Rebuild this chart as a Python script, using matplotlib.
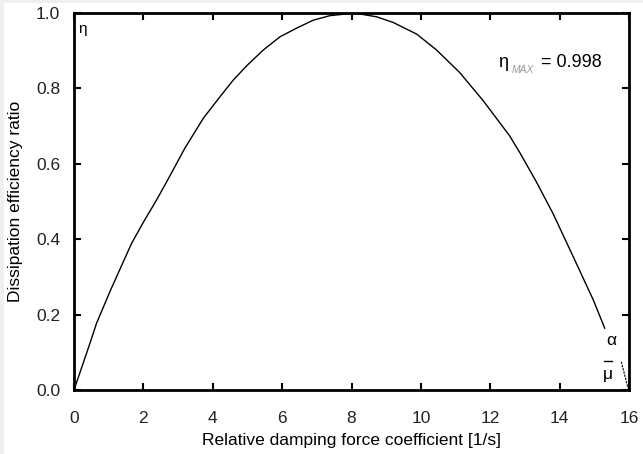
import matplotlib
matplotlib.use("Agg")
import matplotlib.pyplot as plt
from matplotlib.patches import Rectangle

plt.rcParams['font.family'] = ['Liberation Sans', 'DejaVu Sans']

# Data
x_vals = [0.0, 0.46, 0.65, 1.04, 1.66, 2.0, 2.38, 2.67, 3.2, 3.73, 4.21, 4.59,
          5.0, 5.46, 5.94, 6.42, 6.9, 7.38, 7.8, 8.2, 8.72, 9.2, 9.88, 10.45,
          11.12, 11.8, 12.56, 12.85, 13.33, 13.81, 14.39, 14.97, 15.3]
eta_vals = [0.0, 0.124, 0.177, 0.262, 0.389, 0.445, 0.504, 0.552, 0.642, 0.721,
            0.778, 0.822, 0.862, 0.902, 0.937, 0.960, 0.981, 0.993, 0.997, 0.998,
            0.990, 0.975, 0.944, 0.902, 0.842, 0.767, 0.674, 0.630, 0.552, 0.468,
            0.354, 0.239, 0.164]
x_ticks = [0, 2, 4, 6, 8, 10, 12, 14, 16]
y_ticks = [0.0, 0.2, 0.4, 0.6, 0.8, 1.0]
y_tick_labels = ["0.0", "0.2", "0.4", "0.6", "0.8", "1.0"]
eta_max = 0.998
alpha_mu_x = 16.0

W, H = 643, 454
fig = plt.figure(figsize=(W / 100, H / 100), dpi=100)
fig.patch.set_facecolor('white')
# light gray frame strips (top and left)
fig.patches.append(Rectangle((0, 0), 3.5 / W, 1, transform=fig.transFigure,
                             facecolor='#efefef', edgecolor='none', zorder=-1))
fig.patches.append(Rectangle((0, 1 - 3.0 / H), 1, 3.0 / H, transform=fig.transFigure,
                             facecolor='#efefef', edgecolor='none', zorder=-1))

left, right, top, bottom = 74, 629, 13, 390
ax = fig.add_axes([left / W, 1 - bottom / H, (right - left) / W, (bottom - top) / H])

ax.plot(x_vals, eta_vals, color='black', lw=1.0)

ax.set_xlim(0, 16)
ax.set_ylim(0, 1.0)
ax.set_xticks(x_ticks)
ax.set_yticks(y_ticks)
ax.set_yticklabels(y_tick_labels)
for s in ax.spines.values():
    s.set_linewidth(2.0)
ax.tick_params(direction='in', length=5, width=1.5, top=True, right=True,
               labelsize=12.5, colors='black')
ax.tick_params(axis='x', pad=15)
ax.tick_params(axis='y', pad=10)
for lab in ax.get_xticklabels() + ax.get_yticklabels():
    lab.set_color('#222222')

ax.set_xlabel('Relative damping force coefficient [1/s]', fontsize=12.5, labelpad=5)
ax.set_ylabel('Dissipation efficiency ratio', fontsize=12.5, labelpad=9)

ax.text(0.008, 0.975, 'η', fontsize=11, ha='left', va='top', transform=ax.transAxes)
ax.text(0.764, 0.868, 'η', fontsize=13, ha='left', va='center',
        transform=ax.transAxes)
ax.text(0.789, 0.848, 'MAX', fontsize=7.5, style='italic', color='#999999',
        ha='left', va='center', transform=ax.transAxes)
ax.text(0.842, 0.870, '= ' + f'{eta_max:.3f}', fontsize=13, ha='left', va='center',
        transform=ax.transAxes)

ax.text(15.5, 0.13, 'α', fontsize=12.5, ha='center', va='center')
ax.text(15.38, 0.040, 'μ', fontsize=12.5, ha='center', va='center')
ax.plot([15.28, 15.52], [0.078, 0.078], color='black', lw=1.0)
ax.plot([15.78, alpha_mu_x - 0.03], [0.075, 0.005], color='black', lw=0.8,
        linestyle=(0, (2, 1)))

fig.savefig('out.png', dpi=100)
